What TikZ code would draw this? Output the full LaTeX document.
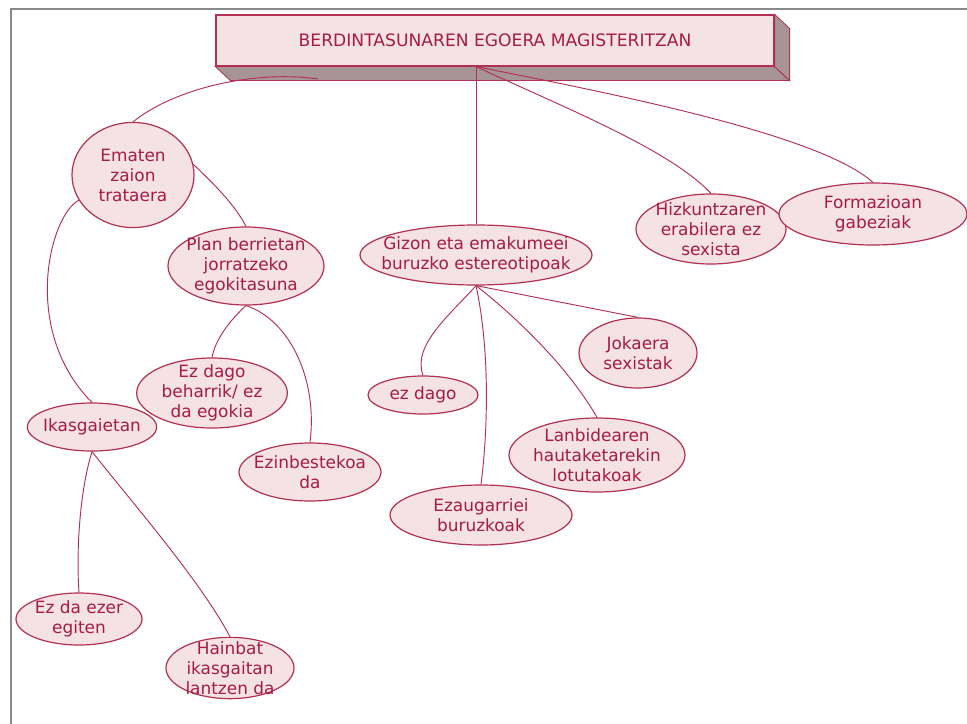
\documentclass[tikz,border=0pt]{standalone}
\usepackage{fontspec}
\setmainfont{DejaVu Sans}
\usetikzlibrary{shapes.geometric}

\definecolor{rosatext}{RGB}{166,28,68}
\definecolor{rosaline}{RGB}{178,48,84}
\definecolor{rosafill}{RGB}{244,226,229}
\definecolor{rosashade}{RGB}{166,148,150}
\definecolor{framegray}{RGB}{138,138,138}

\tikzset{
  bubble/.style={ellipse, draw=rosaline, fill=rosafill, line width=0.9pt, inner sep=0pt},
  link/.style={draw=rosaline, line width=0.7pt},
  every label/.style={text=rosatext, align=center, font=\fontsize{12.7}{15}\selectfont}
}

\begin{document}
\begin{tikzpicture}[x=0.75pt,y=-0.75pt]
\useasboundingbox (0,0) rectangle (967,724);
\draw[framegray, line width=1.5pt] (11,724) -- (11,9.5) -- (967,9.5);

% title block
\node[rectangle, draw=rosaline, fill=rosafill, line width=0.9pt,
      minimum width=418.5pt, minimum height=38.25pt, text=rosatext,
      font=\fontsize{12.85}{15}\selectfont] (title) at (495,40.5)
    {BERDINTASUNAREN EGOERA MAGISTERITZAN};
\filldraw[fill=rosashade, draw=rosaline, line width=0.6pt]
    (title.south west) -- ++(15,14) -- ([shift={(15,14)}]title.south east)
    -- (title.south east) -- cycle;
\filldraw[fill=rosashade, draw=rosaline, line width=0.6pt]
    (title.north east) -- ++(15,14) -- ([shift={(15,14)}]title.south east)
    -- (title.south east) -- cycle;
\coordinate (t1) at (318,79);

% bubbles
\node[bubble, minimum width=91.5pt, minimum height=78.8pt,
      label=center:{Ematen\\zaion\\trataera}] (ematen) at (133,175) {};
\node[bubble, minimum width=117pt, minimum height=58.5pt,
      label=center:{Plan berrietan\\jorratzeko\\egokitasuna}] (plan) at (246,266) {};
\node[bubble, minimum width=174pt, minimum height=45pt,
      label=center:{Gizon eta emakumeei\\buruzko estereotipoak}] (gizon) at (476,255) {};
\node[bubble, minimum width=112.5pt, minimum height=52.5pt,
      label=center:{Hizkuntzaren\\erabilera ez\\sexista}] (hizk) at (711,229) {};
\node[bubble, minimum width=141pt, minimum height=46.5pt,
      label=center:{Formazioan\\gabeziak}] (formaz) at (873,214) {};
\node[bubble, minimum width=88.5pt, minimum height=52.5pt,
      label=center:{Jokaera\\sexistak}] (jokaera) at (638,353) {};
\node[bubble, minimum width=82.5pt, minimum height=28.5pt,
      label=center:{ez dago}] (ezdago) at (423,395) {};
\node[bubble, minimum width=132pt, minimum height=55.5pt,
      label=center:{Lanbidearen\\hautaketarekin\\lotutakoak}] (lanbide) at (597,455) {};
\node[bubble, minimum width=136.5pt, minimum height=45pt,
      label=center:{Ezaugarriei\\buruzkoak}] (ezaug) at (481,515) {};
\node[bubble, minimum width=113pt, minimum height=52.5pt,
      label=center:{Ez dago\\beharrik/ ez\\da egokia}] (beharrik) at (212,393) {};
\node[bubble, minimum width=106.5pt, minimum height=43.5pt,
      label=center:{Ezinbestekoa\\da}] (ezinb) at (310,472) {};
\node[bubble, minimum width=97pt, minimum height=36pt,
      label=center:{Ikasgaietan}] (ikas) at (92,427) {};
\node[bubble, minimum width=94.5pt, minimum height=39pt,
      label=center:{Ez da ezer\\egiten}] (ezer) at (79,619) {};
\node[bubble, minimum width=96pt, minimum height=46pt,
      label=center:{Hainbat\\ikasgaitan\\lantzen da}] (hainbat) at (230,668) {};

\coordinate (hub) at (gizon.north |- title.south);

% connectors
\draw[link] (t1) .. controls (255,70) and (175,88) .. (ematen.north);
\draw[link] (hub) -- (gizon.north);
\draw[link] (hub) .. controls (570,110) and (670,150) .. (hizk.north);
\draw[link] (hub) .. controls (620,95) and (820,135) .. (formaz.north);
\draw[link] (ematen.10) .. controls (215,185) and (235,205) .. (plan.north);
\draw[link] (ematen.205) .. controls (50,215) and (20,330) .. (ikas.north);
\draw[link] (plan.south) .. controls (230,320) and (215,340) .. (beharrik.north);
\draw[link] (plan.south) .. controls (290,320) and (318,380) .. (ezinb.north);
\draw[link] (gizon.south) .. controls (450,315) and (412,345) .. (ezdago.north);
\draw[link] (gizon.south) .. controls (490,350) and (488,430) .. (ezaug.north);
\draw[link] (gizon.south) .. controls (520,320) and (570,370) .. (lanbide.north);
\draw[link] (gizon.south) -- (jokaera.north);
\draw[link] (ikas.south) .. controls (80,490) and (76,550) .. (ezer.north);
\draw[link] (ikas.south) .. controls (130,500) and (200,580) .. (hainbat.north);
\end{tikzpicture}
\end{document}
